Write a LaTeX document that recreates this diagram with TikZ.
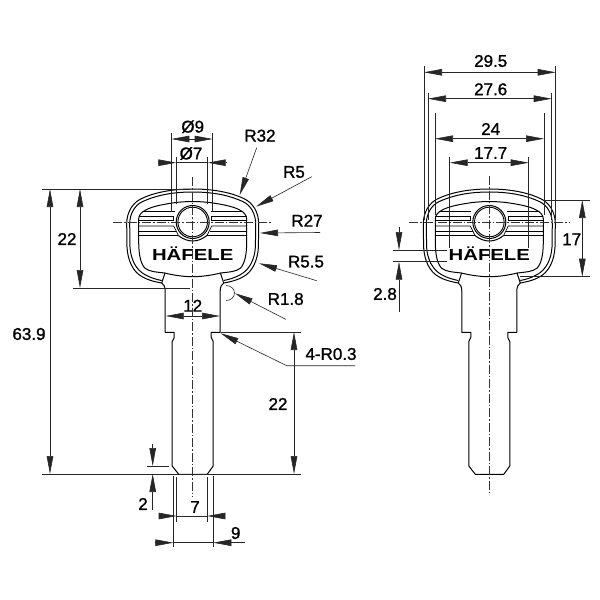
\documentclass[tikz,border=0pt]{standalone}
\usepackage{fontspec}
\setmainfont{Liberation Sans}
\newfontfamily\dimfont[FakeBold=1.2]{Liberation Sans}
\usetikzlibrary{arrows.meta}
\tikzset{
  thinl/.style={line width=0.6pt,black!85},
  keyl/.style={line width=1pt,black},
  grv/.style={line width=0.7pt,black},
  axisl/.style={line width=0.5pt,black!80,dash pattern=on 9pt off 2pt on 1.5pt off 2pt},
  tip/.style={-{Triangle[length=18pt,width=6.5pt]}},
  tipb/.style={{Triangle[length=18pt,width=6.5pt]}-{Triangle[length=18pt,width=6.5pt]}},
  dimtxt/.style={font=\dimfont\fontsize{17}{17}\selectfont,text=black,inner sep=0pt}
}
\newcommand{\keydraw}[1]{%
\begin{scope}[shift={(#1,222)}]
  % outer contour + shank
  \draw[keyl,line join=round]
    (-31,61) .. controls (-36,60) and (-43,59) .. (-50,55)
    .. controls (-60,50) and (-65,38) .. (-65.7,25)
    -- (-66,2) .. controls (-66,-10) and (-60,-19) .. (-52,-23)
    .. controls (-42,-28) and (-25,-33) .. (0,-33)
    .. controls (25,-33) and (42,-28) .. (52,-23)
    .. controls (60,-19) and (66,-10) .. (66,2)
    -- (65.7,25) .. controls (65,38) and (60,50) .. (50,55)
    .. controls (43,59) and (36,60) .. (31,61)
    .. controls (29,62) and (27.5,65) .. (27.5,69)
    -- (27.5,110.3) -- (18.5,110.3) -- (18.5,115.5) -- (20.5,119.5)
    -- (20.5,244) -- (14.5,252.3) -- (-14,252.3) -- (-20.5,244)
    -- (-20.5,119.5) -- (-18.5,115.5) -- (-18.5,110.3) -- (-27.5,110.3)
    -- (-27.5,69) .. controls (-27.5,65) and (-29,62) .. (-31,61);
  % second contour
  \draw[keyl]
    (-31,58.5) .. controls (-36,57.5) and (-42,56) .. (-48,52.5)
    .. controls (-57,47.5) and (-62,37) .. (-62.7,25)
    -- (-63,2) .. controls (-63,-8) and (-58,-17) .. (-50,-20.5)
    .. controls (-40,-25) and (-25,-30) .. (0,-30)
    .. controls (25,-30) and (40,-25) .. (50,-20.5)
    .. controls (58,-17) and (63,-8) .. (63,2)
    -- (62.7,25) .. controls (62,37) and (57,47.5) .. (48,52.5)
    .. controls (42,56) and (36,57.5) .. (31,58.5);
  % panel
  \draw[keyl]
    (0,-20.5) .. controls (6,-20.5) and (12,-20) .. (17,-19.5)
    .. controls (27,-18) and (40,-16) .. (47,-12)
    .. controls (51,-10) and (54,-7) .. (54,-3)
    -- (54,18) .. controls (54,30) and (53,40) .. (48,46)
    .. controls (43,50) and (36,50) .. (28,51)
    .. controls (18,53.5) and (8,54.7) .. (0,54.7)
    .. controls (-8,54.7) and (-18,53.5) .. (-28,51)
    .. controls (-36,50) and (-43,50) .. (-48,46)
    .. controls (-53,40) and (-54,30) .. (-54,18)
    -- (-54,-3) .. controls (-54,-7) and (-51,-10) .. (-47,-12)
    .. controls (-40,-16) and (-27,-18) .. (-17,-19.5)
    .. controls (-12,-20) and (-6,-20.5) .. (0,-20.5);
  % wedges joining panel to contours
  \draw[keyl] (-27.7,51) -- (-31,61);
  \draw[keyl] (27.7,51) -- (31,61);
  % hole
  \draw[keyl] (0,0) circle[radius=16.5];
  \draw[line width=0.9pt,black] (0,0) circle[radius=14.8];
  % lower arc around hole
  \draw[keyl] (-14.3,13.5) .. controls (-10,17) and (-5,19) .. (0,19)
    .. controls (5,19) and (10,17) .. (14.3,13.5);
  % grooves
  \foreach \s in {-1,1}{
    \draw[grv] (\s*50,-10.5) -- (\s*18,-10.5);
    \draw[grv] (\s*54,-6) -- (\s*19,-6) -- (\s*19,-1.5);
    \draw[keyl] (\s*54,-1.5) -- (\s*19,-1.5);
    \draw[grv] (\s*54,4) -- (\s*19,4) -- (\s*14.3,13.5);
    \draw[grv] (\s*54,9) -- (\s*16.8,9);
    \draw[keyl] (\s*54,13.5) -- (\s*14.3,13.5);
  }
  \node[font=\bfseries\fontsize{16}{16}\selectfont,xscale=1.27,inner sep=0pt,anchor=base,text=black] (logo#1) at (0,38.8) {HÄFELE};
\end{scope}}
\begin{document}
\begin{tikzpicture}[x=1pt,y=-1pt]
\useasboundingbox (0,0) rectangle (600,600);
\fill[white] (0,0) rectangle (600,600);

\keydraw{192.7}
\keydraw{489.3}

% centre lines
\draw[axisl] (113,222) -- (272,222);
\draw[axisl] (192.7,177) -- (192.7,497);
\draw[axisl] (409,222) -- (569,222);
\draw[axisl] (489.3,176) -- (489.3,495);

% ---------- left key, extension lines
\draw[thinl] (42,189) -- (190,189);
\draw[thinl] (73,288) -- (190,288);
\draw[thinl] (42,474) -- (301,474);
\draw[thinl] (220.5,332) -- (301,332);
\draw[thinl] (171.3,133) -- (171.3,212);
\draw[thinl] (212.7,133) -- (212.7,212);
\draw[thinl] (176.3,157) -- (176.3,204);
\draw[thinl] (207.7,157) -- (207.7,204);
\draw[thinl] (147.3,466) -- (169.3,466);
\draw[thinl] (176.7,477) -- (176.7,522);
\draw[thinl] (207.3,477) -- (207.3,522);
\draw[thinl] (173.3,476) -- (173.3,547);
\draw[thinl] (213.3,476) -- (213.3,547);

% named dimension ends
\coordinate (d9l) at (171.3,139); \coordinate (d9r) at (212.7,139);
\coordinate (a1) at (50,189); \coordinate (a2) at (50,474);
\coordinate (b1) at (80,189); \coordinate (b2) at (80,288);
\coordinate (c1) at (294,332); \coordinate (c2) at (294,474);
\coordinate (e1) at (165.7,316); \coordinate (e2) at (220,316);
\draw[thinl,tipb] (d9l) -- (d9r);
\draw[thinl,tipb] (a1) -- (a2);
\draw[thinl,tipb] (b1) -- (b2);
\draw[thinl,tipb] (c1) -- (c2);
\draw[thinl,tipb] (e1) -- (e2);

% outside arrows
\coordinate (f1) at (159.3,162.7); \coordinate (f2) at (176.3,162.7);
\coordinate (f3) at (226.7,162.7); \coordinate (f4) at (207.7,162.7);
\draw[thinl,tip] (f1) -- (f2);
\draw[thinl,tip] (f3) -- (f4);
\draw[thinl] (f2) -- (f4);
\coordinate (g1) at (160,516); \coordinate (g2) at (176.7,516);
\coordinate (g3) at (224,516); \coordinate (g4) at (207.3,516);
\draw[thinl,tip] (g1) -- (g2);
\draw[thinl,tip] (g3) -- (g4);
\draw[thinl] (g2) -- (g4);
\coordinate (h1) at (156,542.7); \coordinate (h2) at (173.3,542.7);
\coordinate (h3) at (245,542.7); \coordinate (h4) at (213.3,542.7);
\draw[thinl,tip] (h1) -- (h2);
\draw[thinl,tip] (h3) -- (h4);
\draw[thinl] (h2) -- (h4);
\coordinate (i1) at (152.7,444); \coordinate (i2) at (152.7,466);
\coordinate (i3) at (152.7,510); \coordinate (i4) at (152.7,474);
\draw[thinl,tip] (i1) -- (i2);
\draw[thinl,tip] (i3) -- (i4);

% radius leaders
\coordinate (r32a) at (256.7,147.7); \coordinate (r32b) at (239.7,195);
\coordinate (r5a) at (311.7,176.7); \coordinate (r5b) at (256,206.7);
\coordinate (r27a) at (320,232.5); \coordinate (r27b) at (260,233);
\coordinate (r55a) at (316.7,280.7); \coordinate (r55b) at (259,263.3);
\coordinate (r18a) at (285.7,319.3); \coordinate (r18b) at (235,293.3);
\coordinate (r03a) at (355,365.7); \coordinate (r03k) at (286.7,365.7); \coordinate (r03b) at (220.7,333.3);
\draw[thinl,tip] (r32a) -- (r32b);
\draw[thinl,tip] (r5a) -- (r5b);
\draw[thinl,tip] (r27a) -- (r27b);
\draw[thinl,tip] (r55a) -- (r55b);
\draw[thinl,tip] (r18a) -- (r18b);
\draw[thinl,tip] (r03a) -- (r03k) -- (r03b);
\draw[thinl] (226,285.5) .. controls (231,285.5) and (234.5,289) .. (234.5,293)
  .. controls (234.5,297) and (231,300.5) .. (226,300.5);

% ---------- right key, extension lines
\foreach \x/\t/\b in {424/66/220,555.7/66/220,428/92.7/220,551.7/92.7/220,435/113/215,544/113/215,449.7/156.7/248,528.7/156.7/248}{
  \draw[thinl] (\x,\t) -- (\x,\b);
}
\draw[thinl] (545,200) -- (590,200);
\draw[thinl] (520,276.7) -- (590,276.7);
\draw[thinl] (392.7,250) -- (446.7,250);
\draw[thinl] (392.7,261.7) -- (446.7,261.7);

\coordinate (j1) at (424,72.3); \coordinate (j2) at (555.7,72.3);
\coordinate (k1) at (428,98.7); \coordinate (k2) at (551.7,98.7);
\coordinate (l1) at (435,138.7); \coordinate (l2) at (544,138.7);
\coordinate (m1) at (449.7,162.7); \coordinate (m2) at (528.7,162.7);
\coordinate (n1) at (582.3,200); \coordinate (n2) at (582.3,276.7);
\draw[thinl,tipb] (j1) -- (j2);
\draw[thinl,tipb] (k1) -- (k2);
\draw[thinl,tipb] (l1) -- (l2);
\draw[thinl,tipb] (m1) -- (m2);
\draw[thinl,tipb] (n1) -- (n2);
\coordinate (o1) at (399,227.3); \coordinate (o2) at (399,250);
\coordinate (o3) at (399,311.7); \coordinate (o4) at (399,261.7);
\draw[thinl,tip] (o1) -- (o2);
\draw[thinl,tip] (o3) -- (o4);

% labels
\node[dimtxt] (t1) at (192.7,126.7) {Ø9};
\node[dimtxt] (t2) at (191,153.5) {Ø7};
\node[dimtxt] (t3) at (260,135.7) {R32};
\node[dimtxt] (t4) at (294,172) {R5};
\node[dimtxt] (t5) at (307,220.7) {R27};
\node[dimtxt] (t6) at (306,261.7) {R5.5};
\node[dimtxt] (t7) at (285.7,299) {R1.8};
\node[dimtxt] (t8) at (192.7,305.7) {12};
\node[dimtxt] (t9) at (67,239) {22};
\node[dimtxt] (t10) at (29,334) {63.9};
\node[dimtxt] (t11) at (278,404) {22};
\node[dimtxt] (t12) at (143,504) {2};
\node[dimtxt] (t13) at (195,507) {7};
\node[dimtxt] (t14) at (235.7,533) {9};
\node[dimtxt] (t15) at (331,354) {4-R0.3};
\node[dimtxt] (t16) at (490.7,61) {29.5};
\node[dimtxt] (t17) at (490.7,89.3) {27.6};
\node[dimtxt] (t18) at (490.7,129) {24};
\node[dimtxt] (t19) at (490.7,153) {17.7};
\node[dimtxt] (t20) at (571.7,239.3) {17};
\node[dimtxt] (t21) at (385,294) {2.8};
\end{tikzpicture}
\end{document}
